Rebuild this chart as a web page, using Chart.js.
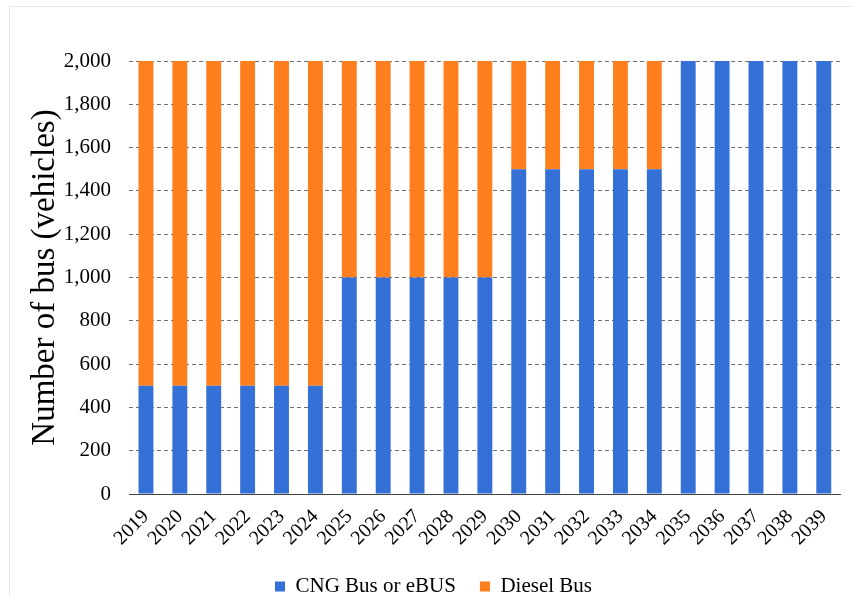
<!DOCTYPE html>
<html>
<head>
<meta charset="utf-8">
<script src="https://cdn.jsdelivr.net/npm/chart.js@4/dist/chart.umd.min.js"></script>
<style>
  html, body { margin: 0; padding: 0; background: #fff; }
  #wrap { width: 852px; height: 596px; position: relative; }
</style>
</head>
<body>
<div id="wrap"><canvas id="c" width="852" height="596"></canvas></div>
<script>
const years = ['2019','2020','2021','2022','2023','2024','2025','2026','2027','2028','2029','2030','2031','2032','2033','2034','2035','2036','2037','2038','2039'];
const cngBus = [500,500,500,500,500,500,1000,1000,1000,1000,1000,1500,1500,1500,1500,1500,2000,2000,2000,2000,2000];
const dieselBus = [1500,1500,1500,1500,1500,1500,1000,1000,1000,1000,1000,500,500,500,500,500,0,0,0,0,0];
const seriesNames = ['CNG Bus or eBUS', 'Diesel Bus'];
const yTitle = 'Number of bus (vehicles)';

const SERIF = 'Liberation Serif';
Chart.defaults.font.family = SERIF;
Chart.defaults.color = '#000';

const borderPlugin = {
  id: 'outerBorder',
  afterDraw(chart) {
    const ctx = chart.ctx;
    ctx.save();
    ctx.strokeStyle = '#e6e6e6';
    ctx.lineWidth = 1;
    ctx.strokeRect(9.5, 6.5, 852, 600);
    ctx.restore();
  }
};

new Chart(document.getElementById('c'), {
  type: 'bar',
  data: {
    labels: years,
    datasets: [
      { label: seriesNames[0], data: cngBus, backgroundColor: '#3470D6', barPercentage: 0.44, categoryPercentage: 1.0 },
      { label: seriesNames[1], data: dieselBus, backgroundColor: '#FF7F1F', barPercentage: 0.44, categoryPercentage: 1.0 }
    ]
  },
  options: {
    responsive: false,
    animation: false,
    layout: { padding: { top: 61, left: 26, right: 11, bottom: -11 } },
    plugins: {
      legend: {
        position: 'bottom',
        labels: { font: { family: SERIF, size: 21 }, color: '#000', boxWidth: 10, boxHeight: 10, padding: 24 }
      },
      tooltip: { enabled: false }
    },
    scales: {
      x: {
        stacked: true,
        grid: { display: false, drawTicks: false },
        border: { display: true, color: '#444', width: 1 },
        ticks: { font: { family: SERIF, size: 20 }, color: '#000', maxRotation: 45, minRotation: 45, padding: 11, autoSkip: false },
        afterFit(scale) { scale.height = 58; }
      },
      y: {
        stacked: true,
        min: 0, max: 2000,
        ticks: { stepSize: 200, font: { family: SERIF, size: 21 }, color: '#000', padding: 18,
          callback: v => v.toLocaleString('en-US') },
        grid: { color: '#6f6f6f', lineWidth: 1, drawTicks: false },
        border: { display: false, dash: [4, 3] },
        title: { display: true, text: yTitle, font: { family: SERIF, size: 33 }, color: '#000', padding: { top: 0, bottom: 0 } },
        afterFit(scale) { scale.width = 103; }
      }
    }
  },
  plugins: [borderPlugin]
});
</script>
</body>
</html>
